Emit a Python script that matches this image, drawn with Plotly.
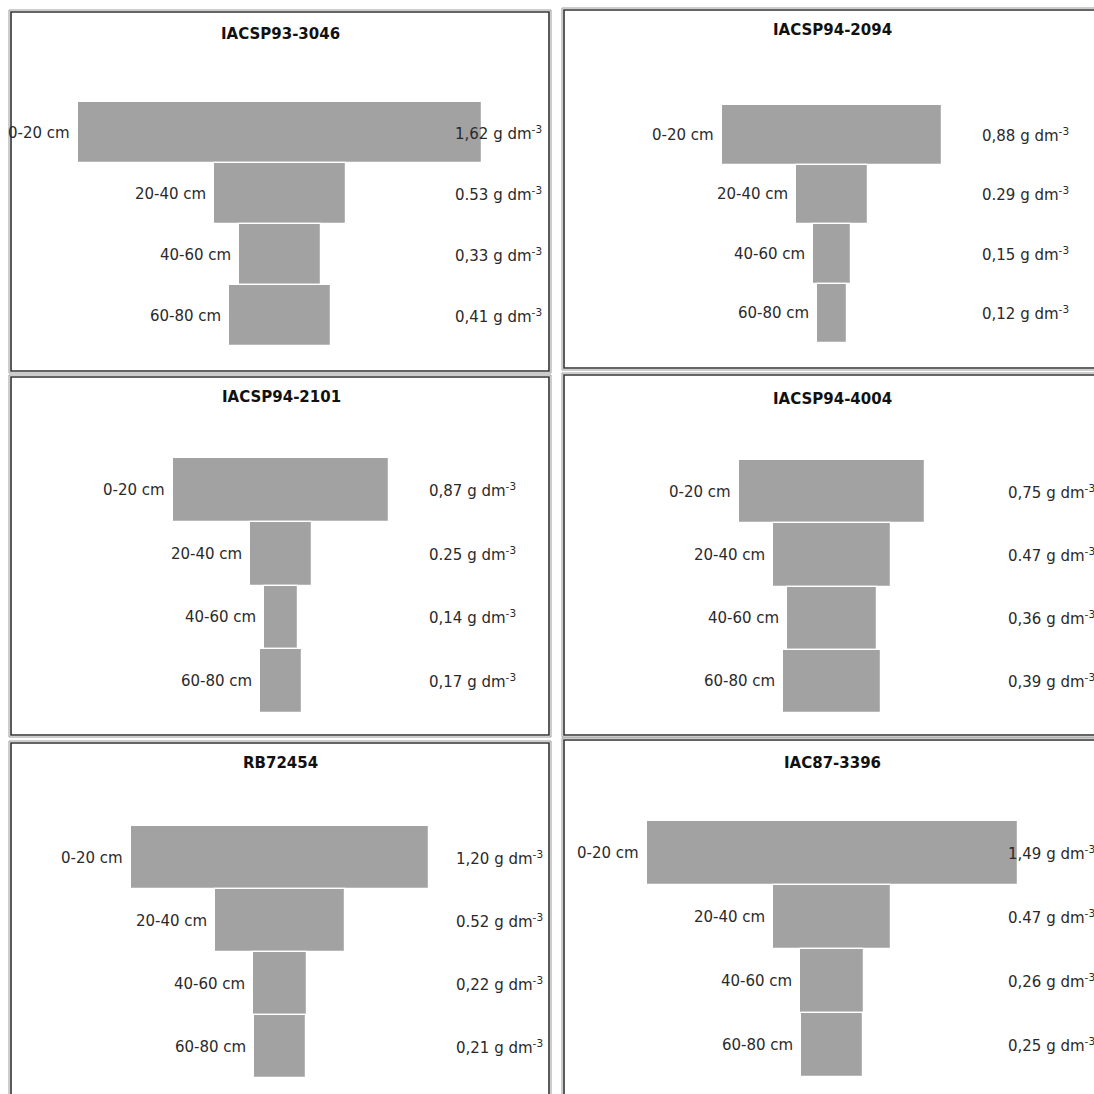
import plotly.graph_objects as go

# Root distribution per soil layer for six sugarcane cultivars (g dm^-3)
depths = ["0-20 cm", "20-40 cm", "40-60 cm", "60-80 cm"]
cultivars = ["IACSP93-3046", "IACSP94-2094", "IACSP94-2101",
             "IACSP94-4004", "RB72454", "IAC87-3396"]
iacsp93_3046 = [1.62, 0.53, 0.33, 0.41]
iacsp94_2094 = [0.88, 0.29, 0.15, 0.12]
iacsp94_2101 = [0.87, 0.25, 0.14, 0.17]
iacsp94_4004 = [0.75, 0.47, 0.36, 0.39]
rb72454 = [1.20, 0.52, 0.22, 0.21]
iac87_3396 = [1.49, 0.47, 0.26, 0.25]
series = [iacsp93_3046, iacsp94_2094, iacsp94_2101,
          iacsp94_4004, rb72454, iac87_3396]
# decimal separator printed in each layer's value label
separators = [",", ".", ",", ","]

W = H = 1094
PX_PER_UNIT = 249.0
BAR_COLOR = "#a2a2a2"
TEXT_COLOR = "#2a2a2a"
FONT = "DejaVu Sans"

# panel geometry in pixels: frame box, bar centre, bar band, title row, value column
panels = [
    dict(frame=(11, 12, 549, 371), cx=280, bars=(102, 346), title_y=34, val_off=173),
    dict(frame=(564, 10, 1100, 368), cx=832, bars=(105, 343), title_y=30, val_off=148),
    dict(frame=(11, 377, 549, 735), cx=281, bars=(458, 713), title_y=397, val_off=146),
    dict(frame=(564, 375, 1100, 735), cx=832, bars=(460, 713), title_y=399, val_off=174),
    dict(frame=(11, 743, 549, 1100), cx=280, bars=(826, 1078), title_y=763, val_off=174),
    dict(frame=(564, 740, 1100, 1100), cx=832, bars=(821, 1077), title_y=763, val_off=174),
]

fig = go.Figure()
annotations = []
shapes = []
layout_axes = {}

for i, (name, vals, p) in enumerate(zip(cultivars, series, panels), start=1):
    xa = "x" if i == 1 else f"x{i}"
    ya = "y" if i == 1 else f"y{i}"
    x0, y0, x1, y1 = p["frame"]
    cx = p["cx"]
    dx0, dx1 = max(x0, 0), min(x1, W)
    b_top, b_bot = p["bars"]

    fig.add_trace(go.Bar(
        y=depths, x=vals, base=[-v / 2 for v in vals], orientation="h",
        marker=dict(color=BAR_COLOR, line=dict(color="white", width=1.2)),
        xaxis=xa, yaxis=ya, showlegend=False, hoverinfo="skip",
    ))

    layout_axes["xaxis" if i == 1 else f"xaxis{i}"] = dict(
        domain=[dx0 / W, dx1 / W],
        range=[(dx0 - cx) / PX_PER_UNIT, (dx1 - cx) / PX_PER_UNIT],
        visible=False, fixedrange=True, anchor=ya,
    )
    layout_axes["yaxis" if i == 1 else f"yaxis{i}"] = dict(
        domain=[1 - b_bot / H, 1 - b_top / H],
        range=[3.5, -0.5], type="category", categoryarray=depths,
        visible=False, fixedrange=True, anchor=xa,
    )

    # cultivar title
    annotations.append(dict(
        text=f"<b>{name}</b>", x=cx / W, y=1 - p["title_y"] / H,
        xref="paper", yref="paper", xanchor="center", yanchor="middle",
        showarrow=False, font=dict(family=FONT, size=15, color="#111"),
    ))

    for d, v, sep in zip(depths, vals, separators):
        # depth label beside the bar's left edge
        annotations.append(dict(
            text=d, x=-v / 2, y=d, xref=xa, yref=ya,
            xanchor="right", yanchor="middle", xshift=-6, showarrow=False,
            font=dict(family=FONT, size=15, color=TEXT_COLOR),
        ))
        # value label in the right-hand column
        label = f"{v:.2f}".replace(".", sep)
        annotations.append(dict(
            text=f"{label} g dm<sup>-3</sup>", x=p["val_off"] / PX_PER_UNIT, y=d,
            xref=xa, yref=ya, xanchor="left", yanchor="middle", showarrow=False,
            font=dict(family=FONT, size=15, color=TEXT_COLOR),
        ))

    # framed panel: thin light outer rule and darker inner rule
    shapes.append(dict(
        type="rect", xref="paper", yref="paper",
        x0=(x0 - 2) / W, x1=(x1 + 2) / W, y0=1 - (y1 + 2) / H, y1=1 - (y0 - 2) / H,
        line=dict(color="#9a9a9a", width=1), fillcolor="rgba(0,0,0,0)", layer="below",
    ))
    shapes.append(dict(
        type="rect", xref="paper", yref="paper",
        x0=x0 / W, x1=x1 / W, y0=1 - y1 / H, y1=1 - y0 / H,
        line=dict(color="#333333", width=1.6), fillcolor="rgba(0,0,0,0)", layer="below",
    ))

fig.update_layout(
    width=W, height=H,
    margin=dict(l=0, r=0, t=0, b=0),
    paper_bgcolor="white", plot_bgcolor="rgba(0,0,0,0)",
    bargap=0, showlegend=False,
    annotations=annotations, shapes=shapes,
    **layout_axes,
)

fig.write_html("out.html")
